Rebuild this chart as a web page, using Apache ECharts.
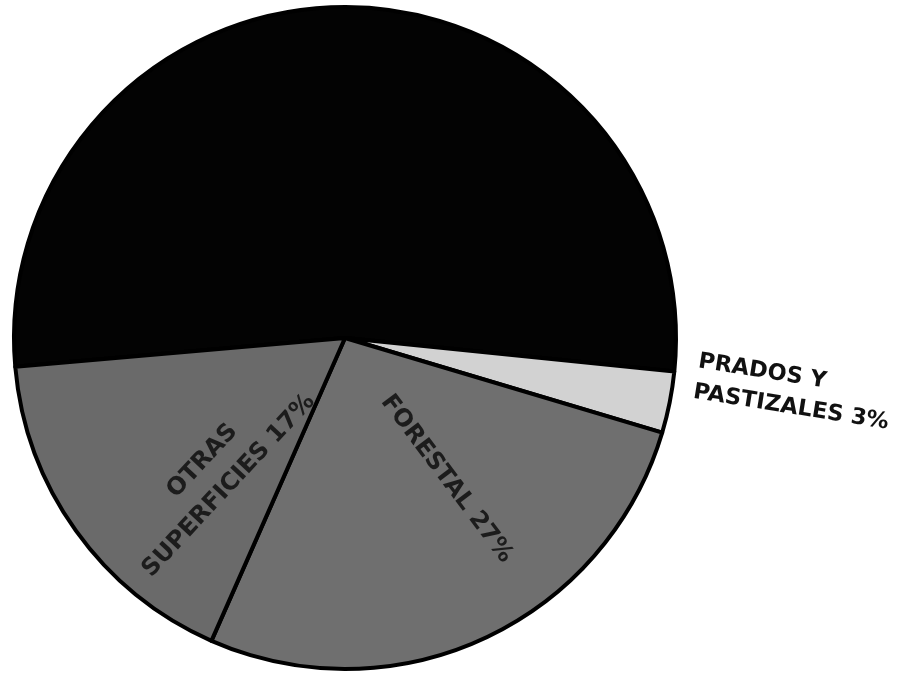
<!DOCTYPE html>
<html>
<head>
<meta charset="utf-8">
<script src="https://cdn.jsdelivr.net/npm/echarts@6/dist/echarts.min.js"></script>
<style>html,body{margin:0;padding:0;background:#fff;}#c{width:902px;height:679px;}</style>
</head>
<body>
<div id="c"></div>
<script>
const categories = ['', 'PRADOS Y\nPASTIZALES', 'FORESTAL', 'OTRAS\nSUPERFICIES'];
const values = [53, 3, 27, 17];
const colors = ['#030303', '#d2d2d2', '#6f6f6f', '#6a6a6a'];
const labelRotations = [0, -9, -53, 47];
// label offsets in each label's own (rotated) frame
const labelShift = [[0, 0], [10, -29], [9, -32], [-22, 31]];

const chart = echarts.init(document.getElementById('c'));
const fontFamily = 'DejaVu Sans, Verdana, sans-serif';
const data = categories.map((name, i) => {
  const item = { name: name, value: values[i], itemStyle: { color: colors[i] } };
  if (i === 0) {
    item.label = { show: false };
    item.labelLine = { show: false };
  } else if (i === 1) {
    item.label = {
      show: true, position: 'outside', rotate: labelRotations[i], color: '#111',
      align: 'left', distanceToLabelLine: 0, lineHeight: 31, fontSize: 22.5,
      fontFamily: fontFamily, fontWeight: 'bold',
      formatter: p => p.name + ' ' + p.value + '%'
    };
    item.labelLine = { show: false, length: 8, length2: 4 };
  } else {
    item.label = {
      show: true, position: 'inside', rotate: labelRotations[i], color: '#1c1c1c',
      align: 'center', lineHeight: 36, fontSize: 24,
      fontFamily: fontFamily, fontWeight: 'bold',
      formatter: p => p.name + ' ' + p.value + '%'
    };
  }
  return item;
});

chart.setOption({
  backgroundColor: '#ffffff',
  animation: false,
  series: [{
    type: 'pie',
    center: [345, 338],
    radius: [0, 331],
    startAngle: 185,
    clockwise: true,
    avoidLabelOverlap: false,
    itemStyle: { borderColor: '#000', borderWidth: 4 },
    emphasis: { disabled: true },
    labelLayout: function (params) {
      const s = labelShift[params.dataIndex];
      return { dx: s[0], dy: s[1] };
    },
    data: data
  }]
});
</script>
</body>
</html>
